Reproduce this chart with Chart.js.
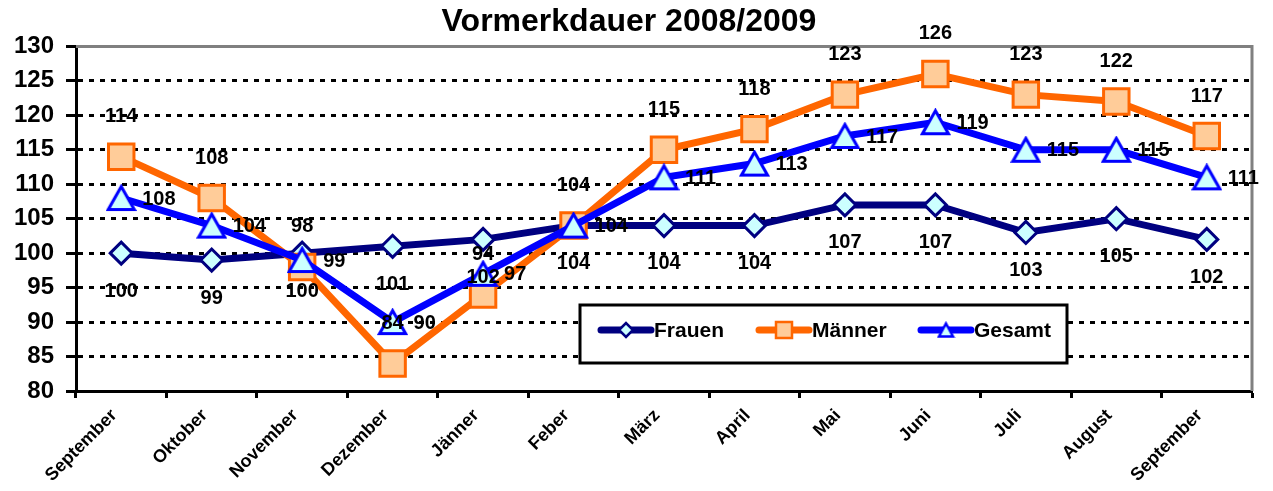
<!DOCTYPE html>
<html>
<head>
<meta charset="utf-8">
<script src="https://cdn.jsdelivr.net/npm/chart.js@4.4.1/dist/chart.umd.min.js"></script>
<style>
  html, body { margin: 0; padding: 0; background: #ffffff; }
  #wrap { width: 1273px; height: 491px; }
</style>
</head>
<body>
<div id="wrap"><canvas id="c" width="1273" height="491"></canvas></div>
<script>
const categories = ['September','Oktober','November','Dezember','Jänner','Feber','März','April','Mai','Juni','Juli','August','September'];
const frauen  = [100, 99, 100, 101, 102, 104, 104, 104, 107, 107, 103, 105, 102];
const maenner = [114, 108, 98, 84, 94, 104, 115, 118, 123, 126, 123, 122, 117];
const gesamt  = [108, 104, 99, 90, 97, 104, 111, 113, 117, 119, 115, 115, 111];
const yTicks  = [80, 85, 90, 95, 100, 105, 110, 115, 120, 125, 130];
const titleText = 'Vormerkdauer 2008/2009';

const FONT = "'Liberation Sans', Arial, sans-serif";

// bbox-centred triangle marker (like the spreadsheet marker)
function triangleImage(w, h, lw) {
  const c = document.createElement('canvas');
  c.width = Math.ceil(w + lw + 2);
  c.height = Math.ceil(h + lw + 2);
  const g = c.getContext('2d');
  const ox = (c.width - w) / 2, oy = (c.height - h) / 2;
  g.beginPath();
  g.moveTo(ox + w / 2, oy);
  g.lineTo(ox + w, oy + h);
  g.lineTo(ox, oy + h);
  g.closePath();
  g.fillStyle = '#CCFFFF';
  g.fill();
  g.lineWidth = lw;
  g.strokeStyle = '#0000FF';
  g.lineJoin = 'miter';
  g.stroke();
  return c;
}
const triBig = triangleImage(26, 23, 3);
const triSmall = triangleImage(14, 13, 2.5);

const labelPlugin = {
  id: 'valueLabels',
  afterDatasetsDraw(chart) {
    const ctx = chart.ctx;
    ctx.save();
    ctx.font = 'bold 20px ' + FONT;
    ctx.fillStyle = '#000';
    chart.data.datasets.forEach((ds, i) => {
      const meta = chart.getDatasetMeta(i);
      meta.data.forEach((pt, j) => {
        const v = String(ds.data[j]);
        if (ds.labelPlace === 'above') {
          ctx.textAlign = 'center'; ctx.textBaseline = 'middle';
          ctx.fillText(v, pt.x, pt.y - 40);
        } else if (ds.labelPlace === 'below') {
          ctx.textAlign = 'center'; ctx.textBaseline = 'middle';
          ctx.fillText(v, pt.x, pt.y + 38);
        } else {
          ctx.textAlign = 'left'; ctx.textBaseline = 'middle';
          ctx.fillText(v, pt.x + 21, pt.y + 1);
        }
      });
    });
    ctx.restore();
  }
};

const frameAndLegend = {
  id: 'frameAndLegend',
  beforeDatasetsDraw(chart) {
    const { ctx, chartArea: a } = chart;
    ctx.save();
    ctx.strokeStyle = '#808080';
    ctx.lineWidth = 3;
    ctx.beginPath();
    ctx.moveTo(a.left, a.top);
    ctx.lineTo(a.right, a.top);
    ctx.lineTo(a.right, a.bottom);
    ctx.stroke();
    ctx.restore();
  },
  afterDraw(chart) {
    const ctx = chart.ctx;
    const box = { x: 580, y: 305, w: 487, h: 58 };
    ctx.save();
    ctx.fillStyle = '#fff';
    ctx.fillRect(box.x, box.y, box.w, box.h);
    ctx.strokeStyle = '#000';
    ctx.lineWidth = 3;
    ctx.strokeRect(box.x, box.y, box.w, box.h);
    const cy = box.y + 25;
    const items = [
      { ds: 0, x0: 601 },
      { ds: 1, x0: 759 },
      { ds: 2, x0: 921 }
    ];
    items.forEach(it => {
      const ds = chart.data.datasets[it.ds];
      ctx.strokeStyle = ds.borderColor;
      ctx.lineWidth = 7;
      ctx.lineCap = 'round';
      ctx.beginPath();
      ctx.moveTo(it.x0, cy);
      ctx.lineTo(it.x0 + 50, cy);
      ctx.stroke();
      const mx = it.x0 + 25;
      ctx.lineCap = 'butt';
      if (ds.pointStyle === 'rectRot') {
        ctx.beginPath();
        ctx.moveTo(mx - 7, cy); ctx.lineTo(mx, cy - 7); ctx.lineTo(mx + 7, cy); ctx.lineTo(mx, cy + 7);
        ctx.closePath();
        ctx.fillStyle = ds.pointBackgroundColor; ctx.fill();
        ctx.strokeStyle = ds.pointBorderColor; ctx.lineWidth = 2.5; ctx.stroke();
      } else if (ds.pointStyle === 'rect') {
        ctx.fillStyle = ds.pointBackgroundColor;
        ctx.fillRect(mx - 8, cy - 8, 16, 16);
        ctx.strokeStyle = ds.pointBorderColor; ctx.lineWidth = 2.5;
        ctx.strokeRect(mx - 8, cy - 8, 16, 16);
      } else {
        ctx.drawImage(triSmall, mx - triSmall.width / 2, cy - triSmall.height / 2);
      }
      ctx.fillStyle = '#000';
      ctx.font = 'bold 21px ' + FONT;
      ctx.textAlign = 'left';
      ctx.textBaseline = 'middle';
      ctx.fillText(ds.label, it.x0 + 53, cy + 1);
    });
    ctx.restore();
  }
};

new Chart(document.getElementById('c'), {
  type: 'line',
  data: {
    labels: categories,
    datasets: [
      {
        label: 'Frauen', data: frauen, order: 2, labelPlace: 'below',
        borderColor: '#000080', borderWidth: 7,
        pointStyle: 'rectRot', pointRadius: 11, pointHoverRadius: 11,
        pointBackgroundColor: '#CCFFFF', pointBorderColor: '#000080', pointBorderWidth: 3,
        tension: 0, fill: false
      },
      {
        label: 'Männer', data: maenner, order: 1, labelPlace: 'above',
        borderColor: '#FF6600', borderWidth: 7,
        pointStyle: 'rect', pointRadius: 18, pointHoverRadius: 18,
        pointBackgroundColor: '#FFCC99', pointBorderColor: '#FF6600', pointBorderWidth: 3,
        tension: 0, fill: false
      },
      {
        label: 'Gesamt', data: gesamt, order: 0, labelPlace: 'right',
        borderColor: '#0000FF', borderWidth: 7,
        pointStyle: triBig, pointRadius: 14, pointHoverRadius: 14,
        pointBackgroundColor: '#CCFFFF', pointBorderColor: '#0000FF', pointBorderWidth: 3,
        tension: 0, fill: false
      }
    ]
  },
  options: {
    responsive: false,
    animation: false,
    events: [],
    layout: { padding: { left: 0, right: 15, top: 0, bottom: 0 } },
    plugins: {
      legend: { display: false },
      tooltip: { enabled: false },
      title: {
        display: true, text: titleText, color: '#000',
        font: { family: FONT, size: 32, weight: 'bold', lineHeight: 1.2 },
        padding: { top: 3, bottom: 5 }
      }
    },
    scales: {
      x: {
        offset: true,
        grid: {
          offset: true, drawOnChartArea: false, drawTicks: true,
          tickLength: 7, tickWidth: 3, tickColor: '#000'
        },
        border: { display: true, color: '#000', width: 3 },
        ticks: {
          color: '#000', maxRotation: 45, minRotation: 45, autoSkip: false, padding: 7,
          labelOffset: -7,
          font: { family: FONT, size: 18, weight: 'bold' }
        },
        afterFit(scale) { scale.height = 100; }
      },
      y: {
        min: yTicks[0], max: yTicks[yTicks.length - 1],
        afterBuildTicks(scale) { scale.ticks = yTicks.map(v => ({ value: v })); },
        grid: {
          color: ctx => (ctx.tick && (ctx.tick.value === 130 || ctx.tick.value === 80)) ? 'rgba(0,0,0,0)' : '#000',
          lineWidth: 3,
          tickBorderDash: [],
          tickColor: '#000', tickWidth: 3, tickLength: 10
        },
        border: { display: true, color: '#000', width: 3, dash: [5, 6] },
        ticks: {
          color: '#000', padding: 12,
          font: { family: FONT, size: 24, weight: 'bold' }
        },
        afterFit(scale) { scale.width = 76; }
      }
    }
  },
  plugins: [frameAndLegend, labelPlugin]
});
</script>
</body>
</html>
